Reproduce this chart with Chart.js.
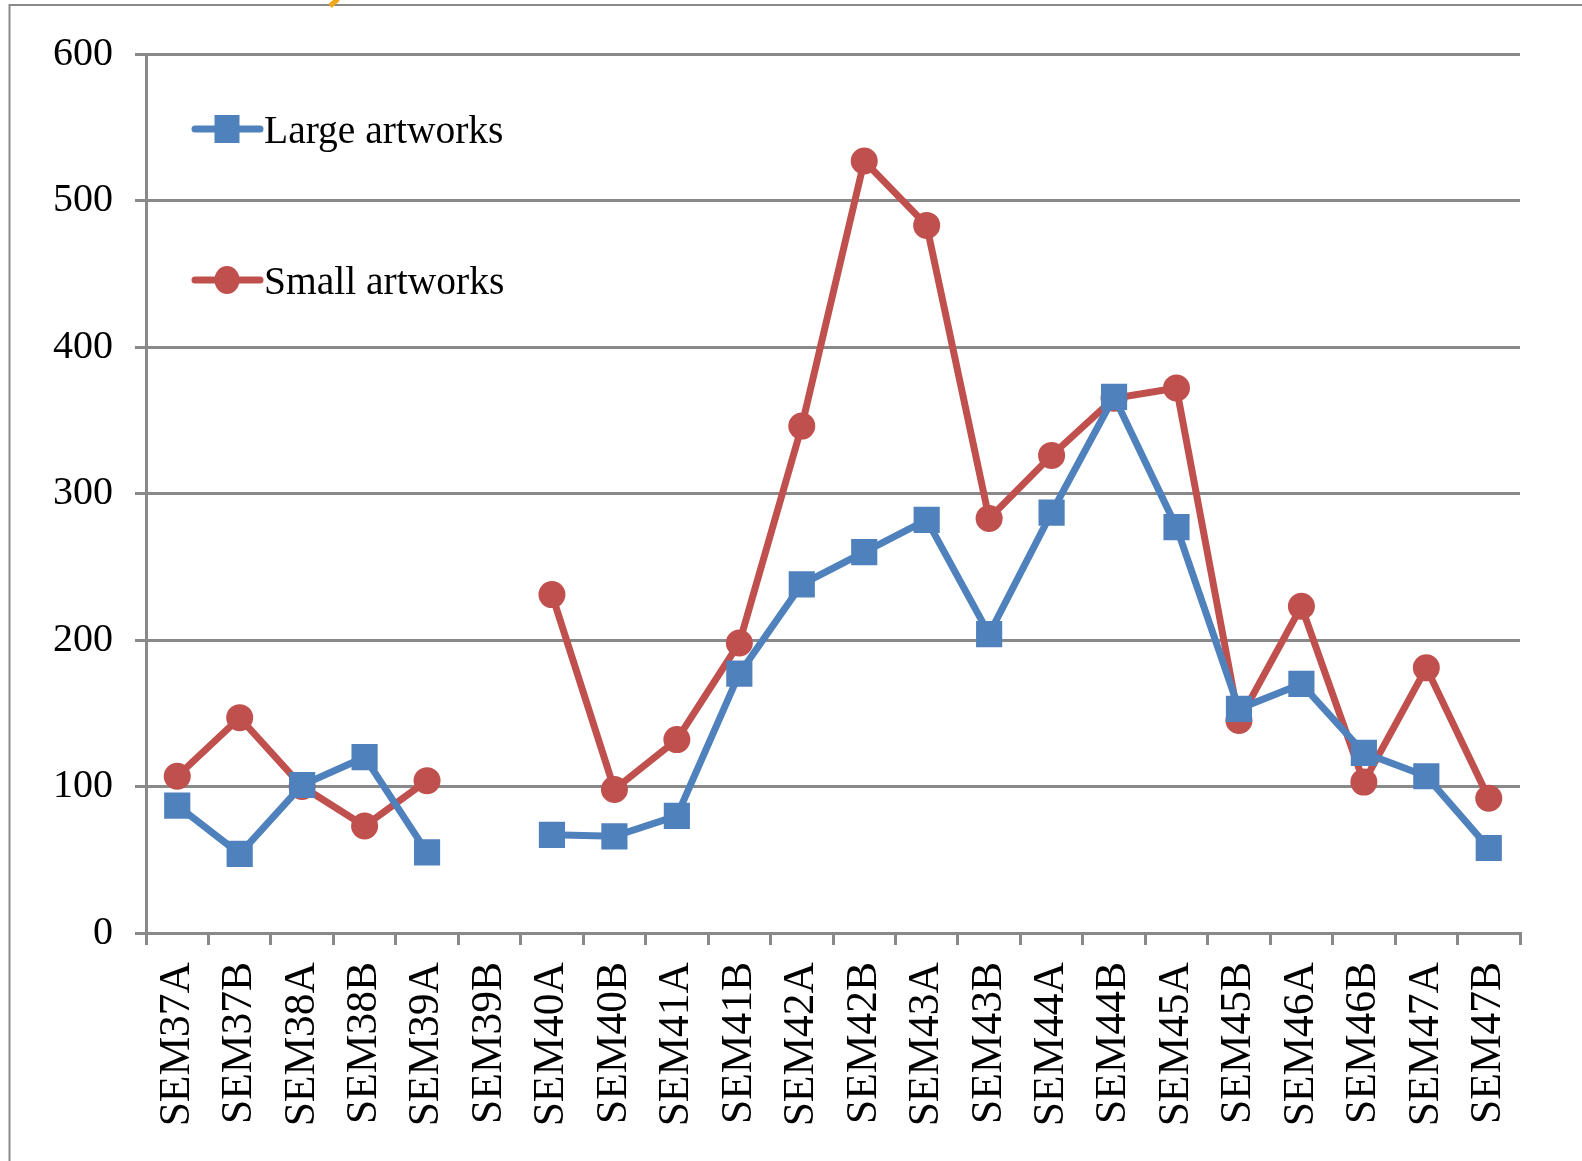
<!DOCTYPE html>
<html>
<head>
<meta charset="utf-8">
<script src="https://cdn.jsdelivr.net/npm/chart.js@4"></script>
<style>
html,body{margin:0;padding:0;background:#fff;}
#wrap{width:1582px;height:1161px;position:relative;}
</style>
</head>
<body>
<div id="wrap"><canvas id="c" width="1582" height="1161"></canvas></div>
<script>
const categories = ["SEM37A","SEM37B","SEM38A","SEM38B","SEM39A","SEM39B","SEM40A","SEM40B","SEM41A","SEM41B","SEM42A","SEM42B","SEM43A","SEM43B","SEM44A","SEM44B","SEM45A","SEM45B","SEM46A","SEM46B","SEM47A","SEM47B"];
const largeArtworks = [87, 54, 101, 120, 55, null, 67, 66, 80, 177, 238, 260, 282, 204, 287, 366, 277, 153, 170, 123, 107, 58];
const smallArtworks = [107, 147, 100, 73, 104, null, 231, 98, 132, 198, 346, 527, 483, 283, 326, 365, 372, 145, 223, 103, 181, 92];
const yTicks = [0, 100, 200, 300, 400, 500, 600];
const seriesNames = ["Large artworks", "Small artworks"];

const BLUE = '#4F81BD', RED = '#C0504D', GRID = '#898989';
const FONT = "'Liberation Serif', 'Times New Roman', serif";

const framePlugin = {
  id: 'frame',
  beforeDraw(chart) {
    const ctx = chart.ctx;
    ctx.save();
    ctx.strokeStyle = GRID;
    ctx.lineWidth = 2;
    ctx.beginPath();
    ctx.moveTo(1582, 5);
    ctx.lineTo(9.5, 5);
    ctx.lineTo(9.5, 1161);
    ctx.stroke();
    ctx.strokeStyle = '#F2A81D';
    ctx.lineWidth = 5;
    ctx.beginPath();
    ctx.moveTo(330, 6);
    ctx.lineTo(338, -1);
    ctx.stroke();
    ctx.restore();
  }
};

const legendPlugin = {
  id: 'customLegend',
  afterDraw(chart) {
    const ctx = chart.ctx;
    const rows = [129, 280];
    chart.data.datasets.forEach((ds, i) => {
      const y = rows[i];
      ctx.save();
      ctx.strokeStyle = ds.borderColor;
      ctx.lineWidth = 7;
      ctx.lineCap = 'round';
      ctx.beginPath();
      ctx.moveTo(195, y);
      ctx.lineTo(260, y);
      ctx.stroke();
      ctx.fillStyle = ds.pointBackgroundColor;
      if (ds.pointStyle === 'rect') {
        ctx.fillRect(227 - 12.5, y - 14, 25, 28);
      } else {
        ctx.beginPath();
        ctx.ellipse(227, y, 12.5, 14, 0, 0, Math.PI * 2);
        ctx.fill();
      }
      ctx.fillStyle = '#000';
      ctx.font = "39.5px " + FONT;
      ctx.textBaseline = 'alphabetic';
      ctx.textAlign = 'left';
      ctx.fillText(ds.label, 264, y + 14);
      ctx.restore();
    });
  }
};

new Chart(document.getElementById('c'), {
  type: 'line',
  data: {
    labels: categories,
    datasets: [
      {
        label: seriesNames[0],
        data: largeArtworks,
        borderColor: BLUE,
        backgroundColor: BLUE,
        pointBackgroundColor: BLUE,
        pointBorderColor: BLUE,
        pointStyle: 'rect',
        pointRadius: 18.5,
        pointBorderWidth: 0,
        borderWidth: 7,
        tension: 0,
        spanGaps: false
      },
      {
        label: seriesNames[1],
        data: smallArtworks,
        borderColor: RED,
        backgroundColor: RED,
        pointBackgroundColor: RED,
        pointBorderColor: RED,
        pointStyle: 'circle',
        pointRadius: 13.5,
        pointBorderWidth: 0,
        borderWidth: 7,
        tension: 0,
        spanGaps: false
      }
    ]
  },
  options: {
    responsive: false,
    animation: false,
    devicePixelRatio: 1,
    layout: { padding: { top: 54, right: 62, left: 0, bottom: 0 } },
    plugins: {
      legend: { display: false },
      tooltip: { enabled: false }
    },
    scales: {
      x: {
        type: 'category',
        offset: true,
        grid: {
          display: true,
          offset: true,
          drawOnChartArea: false,
          drawTicks: true,
          tickLength: 12,
          color: GRID,
          lineWidth: 3
        },
        border: { display: true, color: GRID, width: 3 },
        ticks: {
          minRotation: 90,
          maxRotation: 90,
          autoSkip: false,
          padding: 17,
          color: '#000',
          font: { family: FONT, size: 43.5 }
        },
        afterFit(scale) { scale.height = 228; }
      },
      y: {
        min: 0,
        max: 600,
        afterBuildTicks(scale) { scale.ticks = yTicks.map(v => ({ value: v })); },
        grid: {
          color: GRID,
          lineWidth: 3,
          drawTicks: true,
          tickLength: 11
        },
        border: { display: true, color: GRID, width: 3 },
        ticks: {
          padding: 22,
          color: '#000',
          font: { family: FONT, size: 40 }
        },
        afterFit(scale) { scale.width = 146; }
      }
    }
  },
  plugins: [framePlugin, legendPlugin]
});
</script>
</body>
</html>
